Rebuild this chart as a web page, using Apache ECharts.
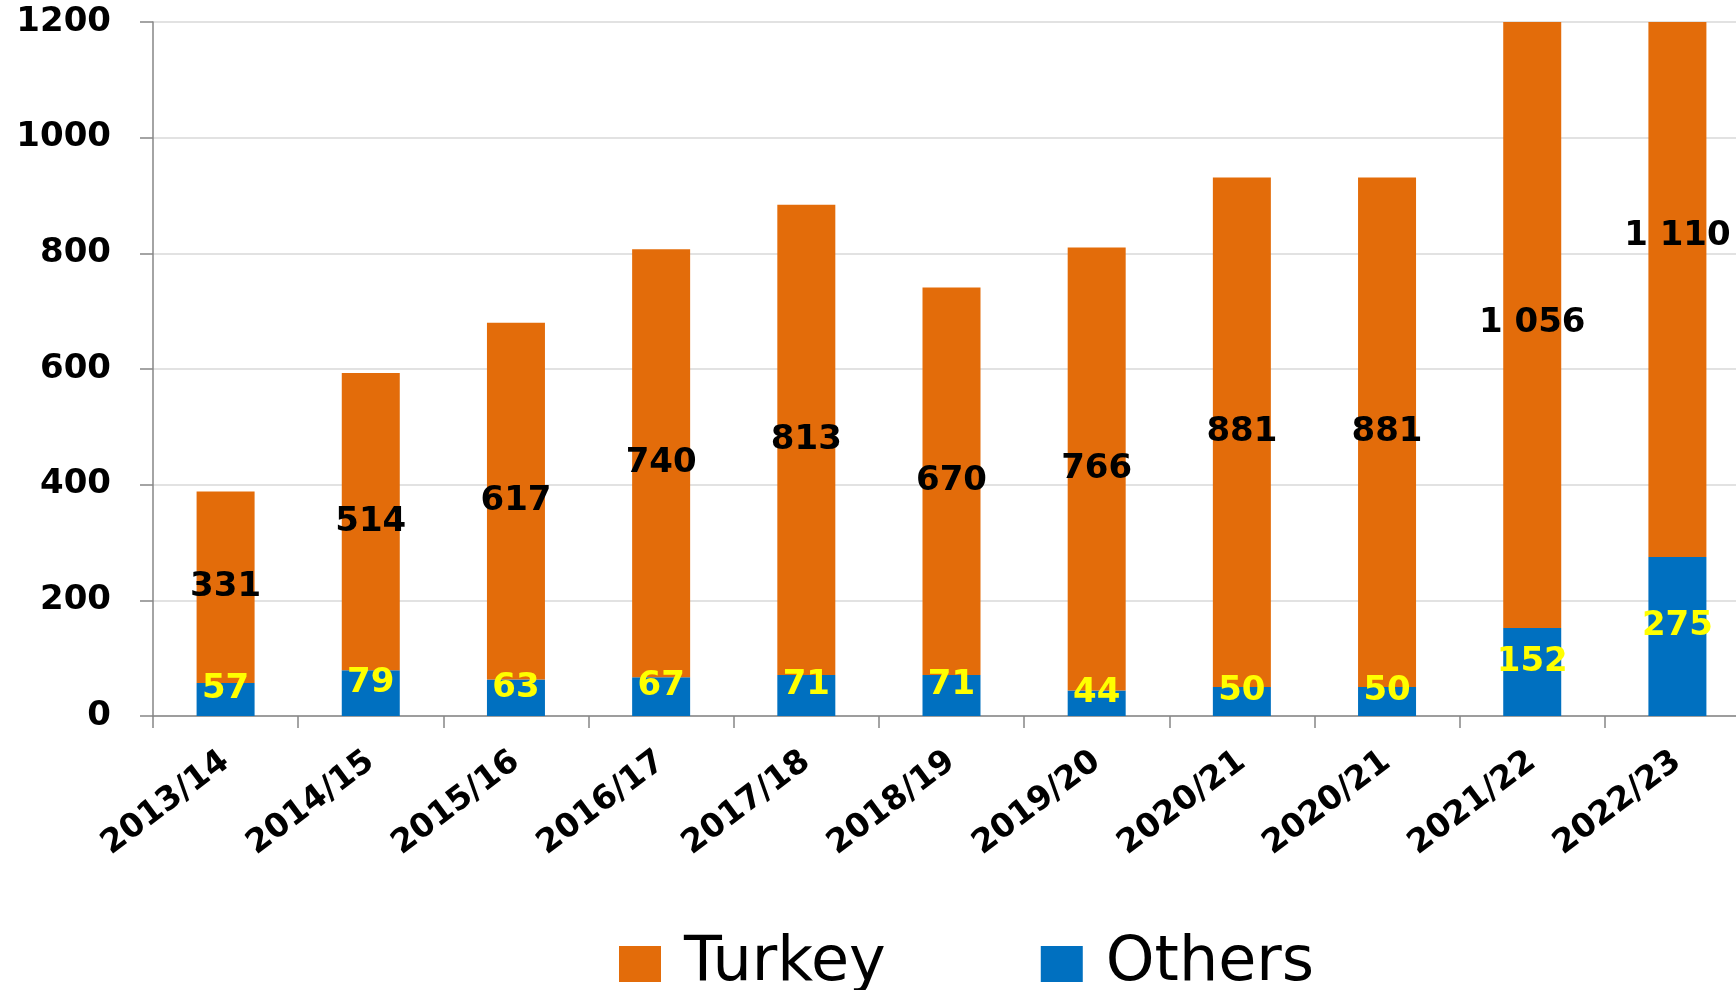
<!DOCTYPE html>
<html>
<head>
<meta charset="utf-8">
<script src="https://cdn.jsdelivr.net/npm/echarts@6/dist/echarts.min.js"></script>
<style>
  html, body { margin: 0; padding: 0; background: #fff; overflow: hidden; }
  /* plot runs past the right edge of the window, as in the source picture */
  #main { width: 1750px; height: 990px; }
</style>
</head>
<body>
<div id="main"></div>
<script>
// data
var seasons = ['2013/14', '2014/15', '2015/16', '2016/17', '2017/18', '2018/19', '2019/20', '2020/21', '2020/21', '2021/22', '2022/23'];
var turkey = [331, 514, 617, 740, 813, 670, 766, 881, 881, 1056, 1110];
var others = [57, 79, 63, 67, 71, 71, 44, 50, 50, 152, 275];
var yTicks = [0, 200, 400, 600, 800, 1000, 1200];

var ORANGE = '#E36C0A';
var BLUE = '#0070C0';
var AXIS = '#868686';

// "1 056" style
function fmt(v) {
    return String(v).replace(/\B(?=(\d{3})+(?!\d))/g, ' ');
}

// turkey labels sit in the middle of the full (unclipped) segment
var turkeyMid = seasons.map(function (s, i) {
    return [i, others[i] + turkey[i] / 2];
});

var myChart = echarts.init(document.getElementById('main'));

var option = {
    animation: false,
    grid: {
        left: 153,
        right: 0,
        top: 22,
        bottom: 274
    },
    legend: {
        data: ['Turkey', 'Others'],
        left: 614,
        top: 928,
        itemWidth: 42,
        itemHeight: 36,
        itemGap: 155,
        icon: 'rect',
        textStyle: {
            fontFamily: 'DejaVu Sans',
            fontSize: 62,
            lineHeight: 62,
            color: '#000',
            padding: [0, 0, 0, 18]
        }
    },
    xAxis: {
        type: 'category',
        data: seasons,
        axisLine: { lineStyle: { color: AXIS, width: 1.5 } },
        axisTick: { show: true, length: 12, lineStyle: { color: AXIS, width: 1.5 } },
        axisLabel: {
            interval: 0,
            rotate: 37,
            margin: 42,
            color: '#000',
            fontFamily: 'DejaVu Sans',
            fontWeight: 'bold',
            fontSize: 33
        }
    },
    yAxis: {
        type: 'value',
        min: yTicks[0],
        max: yTicks[yTicks.length - 1],
        interval: 200,
        axisLine: { show: true, lineStyle: { color: AXIS, width: 1.5 } },
        axisTick: { show: true, length: 13, lineStyle: { color: AXIS, width: 1.5 } },
        splitLine: { lineStyle: { color: '#d9d9d9', width: 1.5 } },
        axisLabel: {
            margin: 42,
            color: '#000',
            fontFamily: 'DejaVu Sans',
            fontWeight: 'bold',
            fontSize: 34,
            formatter: function (v) { return String(v); }
        }
    },
    series: [
        {
            name: 'Others',
            type: 'bar',
            stack: 'total',
            data: others,
            barWidth: 58,
            clip: true,
            itemStyle: { color: BLUE },
            label: {
                show: true,
                position: 'inside',
                offset: [0, -10],
                color: '#FFFF00',
                textBorderWidth: 0,
                fontFamily: 'DejaVu Sans',
                fontWeight: 'bold',
                fontSize: 34
            }
        },
        {
            name: 'Turkey',
            type: 'bar',
            stack: 'total',
            data: turkey,
            barWidth: 58,
            clip: true,
            itemStyle: { color: ORANGE }
        },
        {
            name: 'TurkeyLabel',
            type: 'scatter',
            data: turkeyMid,
            symbolSize: 0,
            silent: true,
            z: 10,
            itemStyle: { opacity: 1 },
            label: {
                show: true,
                position: 'inside',
                formatter: function (p) { return fmt(turkey[p.dataIndex]); },
                color: '#000',
                opacity: 1,
                textBorderWidth: 0,
                fontFamily: 'DejaVu Sans',
                fontWeight: 'bold',
                fontSize: 34
            }
        }
    ]
};

myChart.setOption(option);
</script>
</body>
</html>
